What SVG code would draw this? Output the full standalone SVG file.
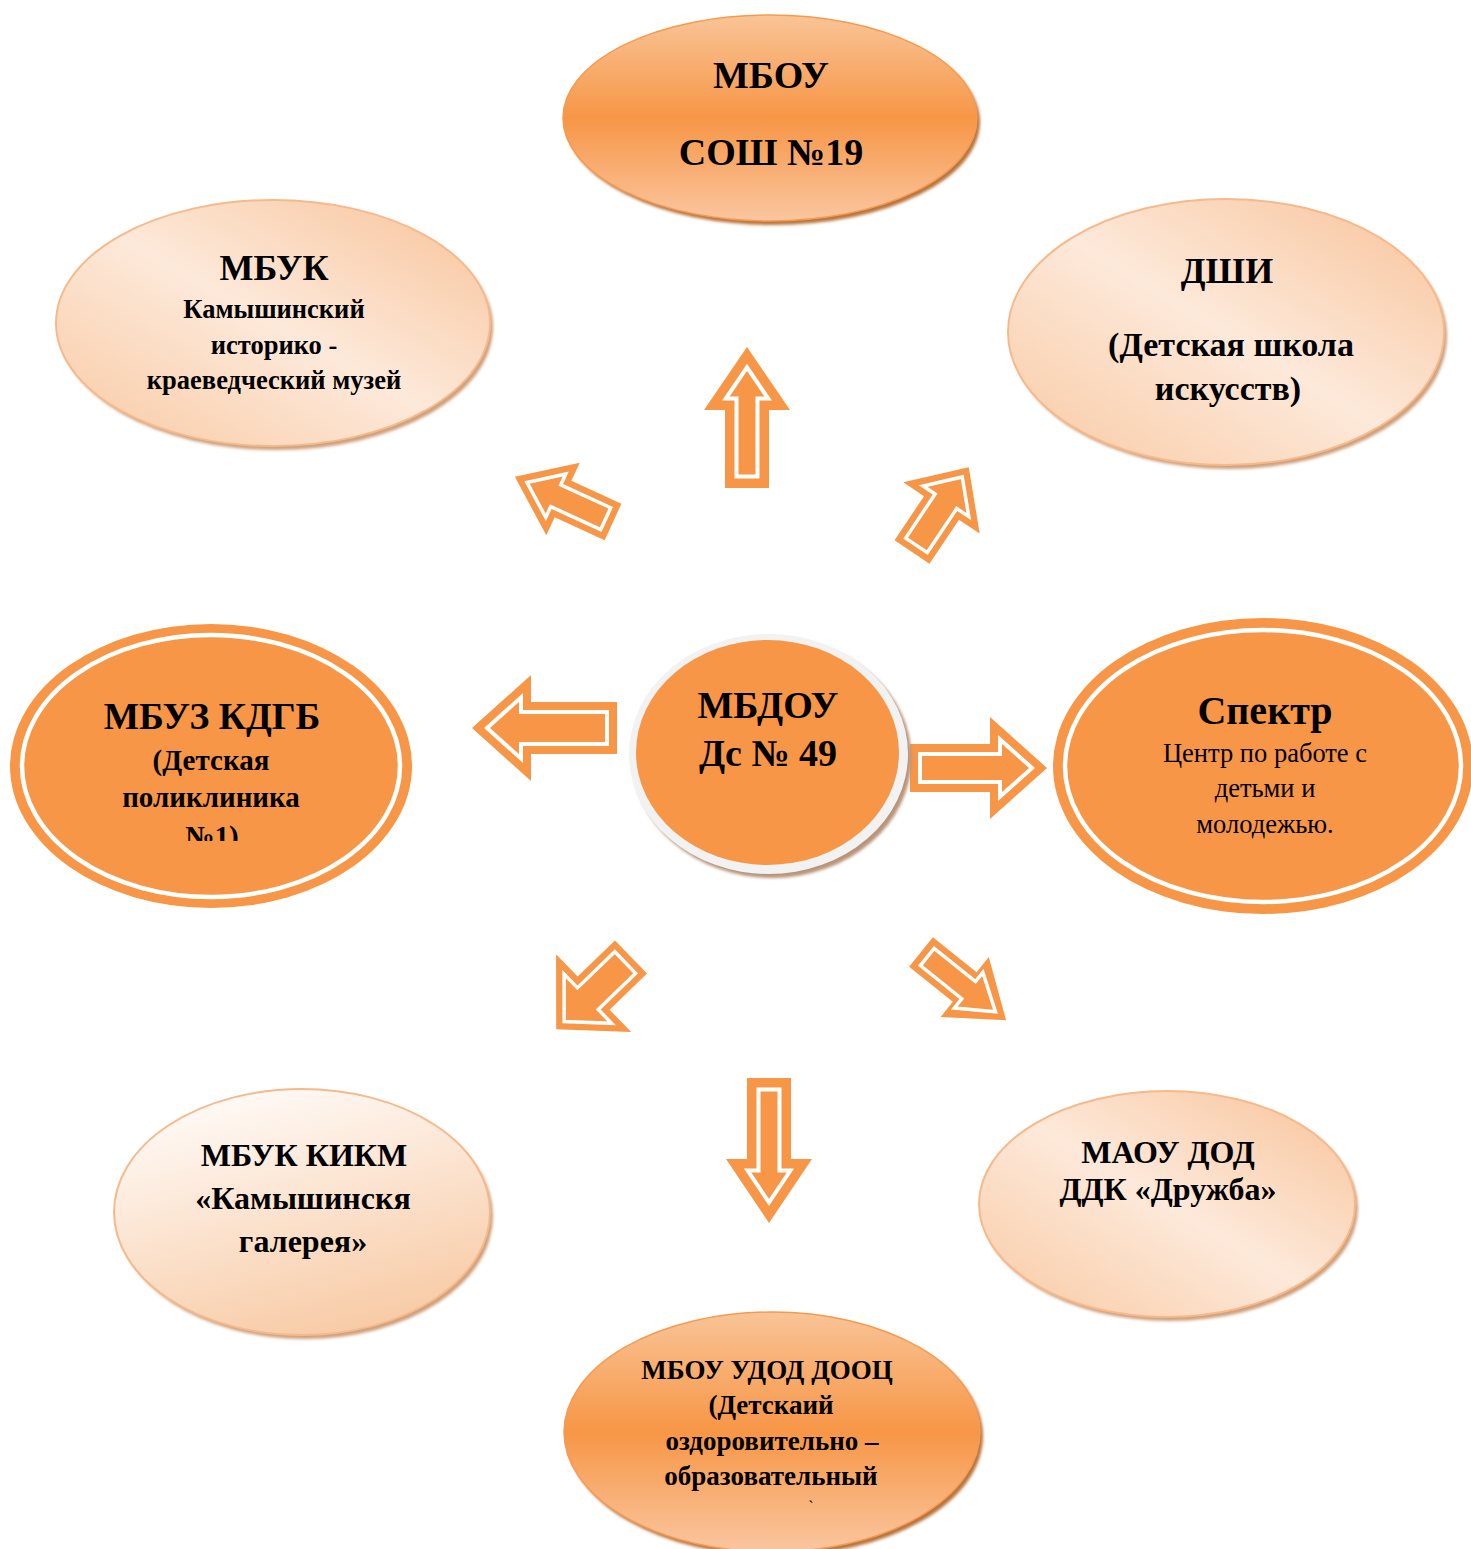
<svg xmlns="http://www.w3.org/2000/svg" width="1471" height="1549" viewBox="0 0 1471 1549">
<defs>
<linearGradient id="gOrange" x1="0" y1="0" x2="0" y2="1">
<stop offset="0" stop-color="#f9c497"/><stop offset="0.5" stop-color="#f79646"/><stop offset="1" stop-color="#fac6a0"/>
</linearGradient>
<linearGradient id="gPeach" x1="0" y1="1" x2="1" y2="0">
<stop offset="0" stop-color="#f9c9a2"/><stop offset="0.5" stop-color="#fde9da"/><stop offset="1" stop-color="#f8c298"/>
</linearGradient>
<linearGradient id="gWhite" x1="0.2" y1="0" x2="0.6" y2="1">
<stop offset="0" stop-color="#fffcfa"/><stop offset="1" stop-color="#f8cba6"/>
</linearGradient>
<filter id="blur" x="-10%" y="-10%" width="120%" height="120%"><feGaussianBlur stdDeviation="1.5"/></filter>
<clipPath id="clipKdgb"><rect x="0" y="600" width="420" height="241"/></clipPath>
</defs>
<style>
.t{font-family:"Liberation Serif","Times New Roman",serif;fill:#000;text-anchor:middle}
.b{font-weight:bold}
.shO{fill:#b8743d;filter:url(#blur)}
.shP{fill:#cfa07c;filter:url(#blur)}
.pe{fill:url(#gPeach);stroke:#f6b98b;stroke-width:2}
.or{fill:url(#gOrange);stroke:#f79a4e;stroke-width:1.5}
.solid{fill:#f79646}
.ring{fill:none;stroke:#fff;stroke-width:4.5}
.ao{fill:#f79646}
.ai{fill:#f79646;stroke:#fff;stroke-width:4;stroke-linejoin:miter}
.ad{fill:#f79646;stroke:#fff;stroke-width:3.5;stroke-linejoin:miter}
</style>
<rect width="1471" height="1549" fill="#fff"/>

<g id="connectors">
<g transform="translate(747,488) rotate(-90)"><polygon class="ao" points="0,-22 78,-22 78,-43 141,0 78,43 78,22 0,22"/><polygon class="ai" points="11.5,-10.5 89.5,-10.5 89.5,-21.2 120.6,0 89.5,21.2 89.5,10.5 11.5,10.5"/></g>
<g transform="translate(769,1078) rotate(90)"><polygon class="ao" points="0,-22 81,-22 81,-43 145,0 81,43 81,22 0,22"/><polygon class="ai" points="11.5,-10.5 92.5,-10.5 92.5,-21.4 124.4,0 92.5,21.4 92.5,10.5 11.5,10.5"/></g>
<g transform="translate(617,728) rotate(180)"><polygon class="ao" points="0,-26 86,-26 86,-53 145,0 86,53 86,26 0,26"/><polygon class="ai" points="10,-16 96,-16 96,-30.6 130,0 96,30.6 96,16 10,16"/></g>
<g transform="translate(910,768)"><polygon class="ao" points="0,-24 80,-24 80,-51 137,0 80,51 80,24 0,24"/><polygon class="ai" points="10,-14 90,-14 90,-28.6 122,0 90,28.6 90,14 10,14"/></g>
<g transform="translate(613,522) rotate(204.7)"><polygon class="ao" points="0,-20 55,-20 55,-40 108,0 55,40 55,20 0,20"/><polygon class="ad" points="8,-12 63,-12 63,-23.9 94.7,0 63,23.9 63,12 8,12"/></g>
<g transform="translate(912,552) rotate(-56.2)"><polygon class="ao" points="0,-21 53,-21 53,-46 102,0 53,46 53,21 0,21"/><polygon class="ad" points="8,-13 61,-13 61,-27.5 90.3,0 61,27.5 61,13 8,13"/></g>
<g transform="translate(631,957) rotate(136)"><polygon class="ao" points="0,-23 52,-23 52,-54 104,0 52,54 52,23 0,23"/><polygon class="ad" points="8,-15 60,-15 60,-34.2 92.9,0 60,34.2 60,15 8,15"/></g>
<g transform="translate(921,952) rotate(38.7)"><polygon class="ao" points="0,-19 56,-19 56,-38.5 109,0 56,38.5 56,19 0,19"/><polygon class="ad" points="8,-11 61,-11 61,-22.8 95.4,0 61,22.8 61,11 8,11"/></g>
</g>

<g id="n-sosh19">
<ellipse class="shO" cx="773" cy="122" rx="207" ry="103"/>
<ellipse class="or" cx="770" cy="118" rx="207" ry="103"/>
<text class="t b" x="771" y="88" font-size="38">МБОУ</text>
<text class="t b" x="771" y="165" font-size="38">СОШ №19</text>
</g>

<g id="n-mbuk">
<ellipse class="shP" cx="276" cy="327" rx="217" ry="123"/>
<ellipse class="pe" cx="273" cy="323" rx="217" ry="123"/>
<text class="t b" x="274" y="280" font-size="36">МБУК</text>
<text class="t b" x="274" y="318" font-size="26.5">Камышинский</text>
<text class="t b" x="274" y="354" font-size="26.5">историко -</text>
<text class="t b" x="274" y="389" font-size="26.5">краеведческий музей</text>
</g>

<g id="n-dshi">
<ellipse class="shP" cx="1229" cy="336" rx="218" ry="133"/>
<ellipse class="pe" cx="1226" cy="332" rx="218" ry="133"/>
<text class="t b" x="1227" y="283" font-size="36">ДШИ</text>
<text class="t b" x="1231" y="356" font-size="34">(Детская школа</text>
<text class="t b" x="1228" y="400" font-size="34">искусств)</text>
</g>

<g id="n-kdgb">
<ellipse class="solid" cx="211" cy="766" rx="201" ry="142"/>
<ellipse class="ring" cx="211" cy="766" rx="189" ry="131"/>
<text class="t b" x="212" y="729" font-size="37.5">МБУЗ КДГБ</text>
<text class="t b" x="211" y="770" font-size="29">(Детская</text>
<text class="t b" x="211" y="807" font-size="29">поликлиника</text>
<text class="t b" x="212" y="846" font-size="29" clip-path="url(#clipKdgb)">№1)</text>
</g>

<g id="n-center">
<ellipse fill="#b99478" cx="772" cy="758" rx="139.5" ry="120" filter="url(#blur)"/>
<ellipse fill="#f2f2f2" cx="768.5" cy="754" rx="139.5" ry="120"/>
<ellipse class="solid" cx="767.5" cy="752.5" rx="131.5" ry="112.5"/>
<text class="t b" x="768" y="718" font-size="38">МБДОУ</text>
<text class="t b" x="768" y="766" font-size="38">Дс № 49</text>
</g>

<g id="n-spektr">
<ellipse class="solid" cx="1263" cy="766" rx="210" ry="148"/>
<ellipse class="ring" cx="1263" cy="766" rx="198" ry="136"/>
<text class="t b" x="1265" y="724" font-size="40">Спектр</text>
<text class="t" x="1265" y="762" font-size="26.5">Центр по работе с</text>
<text class="t" x="1265" y="797" font-size="26.5">детьми и</text>
<text class="t" x="1265" y="833" font-size="26.5">молодежью.</text>
</g>

<g id="n-kikm">
<ellipse class="shP" cx="305" cy="1216" rx="188" ry="123"/>
<ellipse fill="url(#gWhite)" stroke="#f6b98b" stroke-width="2" cx="302" cy="1212" rx="188" ry="123"/>
<text class="t b" x="304" y="1166" font-size="32">МБУК КИКМ</text>
<text class="t b" x="303" y="1209" font-size="32">«Камышинскя</text>
<text class="t b" x="303" y="1252" font-size="32">галерея»</text>
</g>

<g id="n-druzhba">
<ellipse class="shP" cx="1170" cy="1208" rx="188" ry="113"/>
<ellipse class="pe" cx="1167" cy="1204" rx="188" ry="113"/>
<text class="t b" x="1168" y="1163" font-size="32">МАОУ ДОД</text>
<text class="t b" x="1168" y="1200" font-size="32">ДДК «Дружба»</text>
</g>

<g id="n-dooc">
<ellipse class="shO" cx="775" cy="1436" rx="208" ry="120"/>
<ellipse class="or" cx="772" cy="1432" rx="208" ry="120"/>
<text class="t b" x="767" y="1379" font-size="27">МБОУ УДОД ДООЦ</text>
<text class="t b" x="771" y="1414" font-size="27">(Детскаий</text>
<text class="t b" x="772" y="1450" font-size="27">оздоровительно –</text>
<text class="t b" x="771" y="1485" font-size="27">образовательный</text>
<text class="t" x="811" y="1512" font-size="16">`</text>
</g>
</svg>
